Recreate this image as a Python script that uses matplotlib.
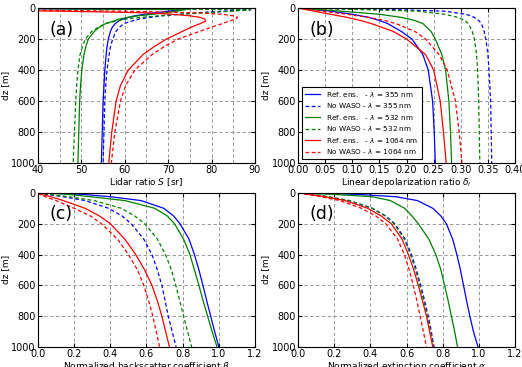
"""
Vertical profiles of lidar ratio, depolarization ratio and normalized
backscatter / extinction, reference ensemble vs. no-WASO case.
"""

import numpy as np
import matplotlib
matplotlib.use('Agg')
import matplotlib.pyplot as plt
from matplotlib.ticker import MultipleLocator

# =============================================================================
# DATA
# =============================================================================

WAVELENGTHS = [355, 532, 1064]
COLORS = {355: 'b', 532: 'g', 1064: 'r'}

# (a) lidar ratio S [sr]
dz_a = [0, 10, 20, 30, 40, 50, 60, 70, 85, 100, 125, 150, 200, 250, 300,
        400, 500, 600, 800, 1000]
lr_ref_355 = [20, 73, 70.5, 67, 64.5, 62.3, 60.8, 59.6, 58.5, 57.8, 57.1,
              56.7, 56.2, 55.9, 55.7, 55.4, 55.2, 55.0, 54.8, 54.6]
lr_now_355 = [20, 89, 83, 77, 72.5, 68.5, 66, 63.5, 61.5, 59.8, 58.7,
              58.0, 57.2, 56.7, 56.4, 55.9, 55.6, 55.4, 55.2, 55.0]
lr_ref_532 = [20, 74, 72, 69.5, 66.5, 63, 60.8, 58.8, 57.3, 55.6, 54.1,
              53.0, 51.6, 51.0, 50.6, 50.1, 49.8, 49.6, 49.4, 49.2]
lr_now_532 = [20, 89, 85, 78, 73, 68, 63.8, 60.5, 57.8, 55.5, 53.8,
              52.4, 50.9, 50.2, 49.7, 49.2, 48.9, 48.7, 48.4, 48.1]
lr_ref_1064 = [0, 20, 45, 64.5, 71, 75, 77.3, 78.4, 78.6, 77.4, 75.2,
               73.3, 69.6, 66.7, 64.2, 60.8, 59.0, 58.0, 57.0, 56.3]
lr_now_1064 = [0, 25, 60, 76, 82.5, 85, 86, 85.6, 84, 82.5, 79.8,
               77.3, 72.3, 69.0, 66.3, 62.3, 60.2, 59.0, 57.7, 56.9]

# (b) linear depolarization ratio
dz_b = [0, 10, 20, 40, 60, 80, 100, 150, 200, 300, 400, 600, 800, 1000]
dep_ref_355 = [0, 0.03, 0.06, 0.10, 0.13, 0.15, 0.165, 0.19, 0.21, 0.23,
               0.24, 0.248, 0.251, 0.253]
dep_now_355 = [0, 0.18, 0.27, 0.31, 0.325, 0.333, 0.338, 0.343, 0.346,
               0.35, 0.352, 0.355, 0.356, 0.357]
dep_ref_532 = [0, 0.04, 0.08, 0.15, 0.19, 0.215, 0.23, 0.245, 0.253, 0.265,
               0.272, 0.278, 0.281, 0.283]
dep_now_532 = [0, 0.12, 0.22, 0.27, 0.295, 0.307, 0.314, 0.321, 0.325,
               0.329, 0.331, 0.333, 0.334, 0.335]
dep_ref_1064 = [0, 0.015, 0.03, 0.06, 0.09, 0.115, 0.135, 0.175, 0.20,
                0.235, 0.25, 0.262, 0.268, 0.273]
dep_now_1064 = [0, 0.02, 0.045, 0.09, 0.13, 0.16, 0.18, 0.215, 0.235,
                0.26, 0.275, 0.29, 0.297, 0.302]

# (c) normalized backscatter coefficient
dz_c = [0, 5, 10, 25, 50, 100, 150, 200, 300, 400, 500, 600, 700, 800,
        900, 1000]
bsc_ref_355 = [0, 0.15, 0.25, 0.40, 0.57, 0.695, 0.75, 0.785, 0.835, 0.865,
               0.89, 0.912, 0.933, 0.955, 0.977, 1.0]
bsc_now_355 = [0, 0.025, 0.05, 0.14, 0.26, 0.39, 0.465, 0.515, 0.585, 0.63,
               0.66, 0.685, 0.703, 0.72, 0.742, 0.764]
bsc_ref_532 = [0, 0.10, 0.17, 0.29, 0.48, 0.645, 0.715, 0.755, 0.805, 0.84,
               0.865, 0.89, 0.913, 0.938, 0.963, 0.99]
bsc_now_532 = [0, 0.03, 0.06, 0.17, 0.31, 0.46, 0.535, 0.59, 0.66, 0.705,
               0.738, 0.762, 0.784, 0.805, 0.827, 0.85]
bsc_ref_1064 = [0, 0.01, 0.02, 0.07, 0.14, 0.26, 0.34, 0.40, 0.48, 0.54,
                0.59, 0.63, 0.66, 0.685, 0.706, 0.727]
bsc_now_1064 = [0, 0.005, 0.01, 0.04, 0.10, 0.20, 0.29, 0.35, 0.44, 0.50,
                0.55, 0.585, 0.612, 0.635, 0.654, 0.672]

# (d) normalized extinction coefficient
dz_d = [0, 5, 10, 25, 50, 100, 150, 200, 300, 400, 500, 600, 700, 800,
        900, 1000]
ext_ref_355 = [0, 0.20, 0.33, 0.54, 0.66, 0.745, 0.79, 0.82, 0.855, 0.878,
               0.898, 0.915, 0.932, 0.95, 0.97, 0.995]
ext_now_355 = [0, 0.035, 0.07, 0.16, 0.28, 0.41, 0.485, 0.535, 0.592, 0.627,
               0.655, 0.678, 0.70, 0.72, 0.737, 0.752]
ext_ref_532 = [0, 0.10, 0.20, 0.41, 0.51, 0.59, 0.63, 0.665, 0.723, 0.762,
               0.79, 0.81, 0.83, 0.848, 0.866, 0.882]
ext_now_532 = [0, 0.04, 0.08, 0.17, 0.285, 0.41, 0.482, 0.53, 0.587, 0.622,
               0.65, 0.673, 0.695, 0.715, 0.732, 0.748]
ext_ref_1064 = [0, 0.03, 0.06, 0.15, 0.26, 0.385, 0.46, 0.515, 0.575, 0.61,
                0.64, 0.665, 0.688, 0.71, 0.728, 0.745]
ext_now_1064 = [0, 0.025, 0.05, 0.13, 0.23, 0.35, 0.43, 0.485, 0.55, 0.588,
                0.615, 0.637, 0.657, 0.675, 0.693, 0.71]

PANELS = [
    ('(a)', r'Lidar ratio $S$ [sr]', dz_a,
     {355: (lr_ref_355, lr_now_355), 532: (lr_ref_532, lr_now_532),
      1064: (lr_ref_1064, lr_now_1064)},
     (40, 90), 10, 5),
    ('(b)', r'Linear depolarization ratio $\delta_l$', dz_b,
     {355: (dep_ref_355, dep_now_355), 532: (dep_ref_532, dep_now_532),
      1064: (dep_ref_1064, dep_now_1064)},
     (0, 0.4), 0.05, None),
    ('(c)', r'Normalized backscatter coefficient $\beta$', dz_c,
     {355: (bsc_ref_355, bsc_now_355), 532: (bsc_ref_532, bsc_now_532),
      1064: (bsc_ref_1064, bsc_now_1064)},
     (0, 1.2), 0.2, None),
    ('(d)', r'Normalized extinction coefficient $\alpha$', dz_d,
     {355: (ext_ref_355, ext_now_355), 532: (ext_ref_532, ext_now_532),
      1064: (ext_ref_1064, ext_now_1064)},
     (0, 1.2), 0.2, None),
]

# =============================================================================
# PLOTTING
# =============================================================================

plt.rcParams['font.family'] = ['DejaVu Sans']
plt.rcParams['mathtext.fontset'] = 'dejavusans'

fig = plt.figure(figsize=(5.22, 3.67), dpi=100)

positions = [
    (0.0728, 0.556, 0.4157, 0.422),
    (0.571, 0.556, 0.4157, 0.422),
    (0.0728, 0.0545, 0.4157, 0.42),
    (0.571, 0.0545, 0.4157, 0.42),
]

for (letter, xlabel, dz, series, xlim, major, minor), pos in zip(PANELS, positions):
    ax = fig.add_axes(pos)
    for wl in WAVELENGTHS:
        ref, now = series[wl]
        c = COLORS[wl]
        ax.plot(ref, dz, color=c, lw=0.9,
                label=r'Ref. ens.   - $\lambda$ = %d nm' % wl)
        ax.plot(now, dz, color=c, lw=0.9, ls=(0, (3, 2)),
                label=r'No WASO - $\lambda$ = %d nm' % wl)

    ax.set_xlim(*xlim)
    ax.set_ylim(1000, 0)
    ax.xaxis.set_major_locator(MultipleLocator(major))
    if minor is not None:
        ax.xaxis.set_minor_locator(MultipleLocator(minor))
        ax.grid(True, which='minor', axis='x', color='#888888',
                ls=(0, (4, 3)), lw=0.6)
    ax.yaxis.set_major_locator(MultipleLocator(200))
    ax.grid(True, which='major', color='#888888', ls=(0, (4, 3)), lw=0.6)
    ax.tick_params(which='both', direction='in', top=True, right=True,
                   labelsize=7, length=3, pad=1.5)
    ax.tick_params(which='minor', length=0)
    ax.set_xlabel(xlabel, fontsize=6.5, labelpad=1)
    ax.set_ylabel('dz [m]', fontsize=6.5, labelpad=1)
    ax.text(0.055, 0.86, letter, transform=ax.transAxes, fontsize=12.5,
            va='center', ha='left')

    if letter == '(b)':
        leg = ax.legend(loc='lower left', fontsize=5.2, frameon=True,
                        fancybox=False, framealpha=1, edgecolor='black',
                        handlelength=2.2, borderpad=0.4, labelspacing=0.35)
        leg.get_frame().set_linewidth(0.8)

fig.savefig('out.png', dpi=100)
